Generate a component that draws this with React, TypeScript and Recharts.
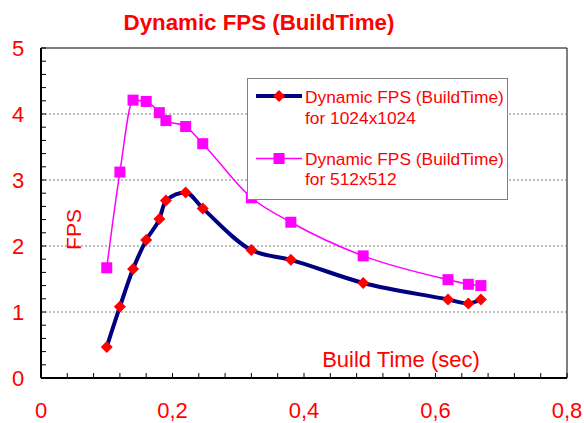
import React from 'react';
import { ComposedChart, Line, XAxis, YAxis, ReferenceLine, ReferenceArea } from 'recharts';

// ---- data ----
const buildTime = [0.1, 0.12, 0.14, 0.16, 0.18, 0.19, 0.22, 0.246, 0.32, 0.38, 0.49, 0.619, 0.65, 0.669];
const fps1024 = [0.47, 1.08, 1.65, 2.09, 2.41, 2.69, 2.81, 2.57, 1.94, 1.79, 1.44, 1.19, 1.13, 1.19];
const fps512 = [1.67, 3.12, 4.21, 4.19, 4.02, 3.9, 3.81, 3.55, 2.73, 2.36, 1.85, 1.49, 1.42, 1.4];

const seriesNames1024 = ['Dynamic FPS (BuildTime)', 'for 1024x1024'];
const seriesNames512 = ['Dynamic FPS (BuildTime)', 'for 512x512'];

const titleText = 'Dynamic FPS (BuildTime)';
const xTitle = 'Build Time (sec)';
const yTitle = 'FPS';

const xTicks = [0, 0.04, 0.08, 0.12, 0.16, 0.2, 0.24, 0.28, 0.32, 0.36, 0.4, 0.44, 0.48, 0.52, 0.56, 0.6, 0.64, 0.68, 0.72, 0.76, 0.8];
const xMajorTicks = [0, 0.2, 0.4, 0.6, 0.8];
const xMajorLabels = ['0', '0,2', '0,4', '0,6', '0,8'];

const yTicks = [0, 0.2, 0.4, 0.6, 0.8, 1, 1.2, 1.4, 1.6, 1.8, 2, 2.2, 2.4, 2.6, 2.8, 3, 3.2, 3.4, 3.6, 3.8, 4, 4.2, 4.4, 4.6, 4.8, 5];
const yMajorTicks = [0, 1, 2, 3, 4, 5];
const yMajorLabels = ['0', '1', '2', '3', '4', '5'];
const gridValues = [1, 2, 3, 4];

const data = buildTime.map((t, i) => ({ t, a: fps1024[i], b: fps512[i] }));

const RED = '#FF0000';
const NAVY = '#000080';
const MAGENTA = '#FF00FF';
const FONT = "Arial, 'Liberation Sans', sans-serif";

const findLabel = (v: number, majors: number[], labels: string[]) => {
  const i = majors.findIndex((m) => Math.abs(m - v) < 1e-9);
  return i >= 0 ? labels[i] : null;
};

const XTick = (props: any) => {
  const { x, y, payload } = props;
  const label = findLabel(payload.value, xMajorTicks, xMajorLabels);
  return (
    <g>
      <line x1={x} x2={x} y1={y} y2={y - 5} stroke="#000" strokeWidth={1} />
      {label !== null && (
        <text x={x} y={y + 40} textAnchor="middle" fill={RED} fontSize={22} fontFamily={FONT}>
          {label}
        </text>
      )}
    </g>
  );
};

const YTick = (props: any) => {
  const { x, y, payload } = props;
  const label = findLabel(payload.value, yMajorTicks, yMajorLabels);
  return (
    <g>
      <line x1={x} x2={x + 5} y1={y} y2={y} stroke="#000" strokeWidth={1} />
      {label !== null && (
        <text x={x - 23} y={y + 8} textAnchor="middle" fill={RED} fontSize={22} fontFamily={FONT}>
          {label}
        </text>
      )}
    </g>
  );
};

const Diamond = (props: any) => {
  const { cx, cy, index } = props;
  if (cx == null || cy == null) return <g key={index} />;
  const r = 6;
  return (
    <polygon
      key={`d${index}`}
      points={`${cx},${cy - r} ${cx + r},${cy} ${cx},${cy + r} ${cx - r},${cy}`}
      fill={RED}
      stroke="none"
    />
  );
};

const Square = (props: any) => {
  const { cx, cy, index } = props;
  if (cx == null || cy == null) return <g key={index} />;
  const r = 5.5;
  return <rect key={`s${index}`} x={cx - r} y={cy - r} width={2 * r} height={2 * r} fill={MAGENTA} stroke="none" />;
};

export default function App() {
  return (
    <div style={{ position: 'absolute', left: 0, top: 0, width: 584, height: 423, background: '#fff' }}>
      <ComposedChart width={584} height={423} data={data} margin={{ top: 48, right: 17, left: 0, bottom: 0 }}>
        <ReferenceArea x1={0} x2={0.8} y1={0} y2={5} fill="none" stroke="#000" strokeWidth={1} />
        {gridValues.map((v) => (
          <ReferenceLine key={v} y={v} stroke="#808080" strokeDasharray="2 2" strokeWidth={1} />
        ))}
        <XAxis
          dataKey="t"
          type="number"
          domain={[0, 0.8]}
          ticks={xTicks}
          interval={0}
          height={45}
          tickSize={0}
          tickMargin={0}
          tickLine={false}
          axisLine={{ stroke: '#000', strokeWidth: 2 }}
          tick={<XTick />}
          allowDataOverflow
        />
        <YAxis
          type="number"
          domain={[0, 5]}
          ticks={yTicks}
          interval={0}
          width={41}
          tickSize={0}
          tickMargin={0}
          tickLine={false}
          axisLine={{ stroke: '#000', strokeWidth: 2 }}
          tick={<YTick />}
          allowDataOverflow
        />
        <Line
          dataKey="a"
          type="monotone"
          stroke={NAVY}
          strokeWidth={4}
          dot={Diamond}
          activeDot={false}
          isAnimationActive={false}
        />
        <Line
          dataKey="b"
          type="monotone"
          stroke={MAGENTA}
          strokeWidth={1.5}
          dot={Square}
          activeDot={false}
          isAnimationActive={false}
        />
      </ComposedChart>
      <svg width={584} height={423} style={{ position: 'absolute', left: 0, top: 0, pointerEvents: 'none' }}>
        <text x={259} y={29.5} textAnchor="middle" fill={RED} fontSize={22.3} fontWeight="bold" fontFamily={FONT}>
          {titleText}
        </text>
        <text
          x={73.5}
          y={229.5}
          textAnchor="middle"
          dominantBaseline="central"
          transform="rotate(-90, 73.5, 229.5)"
          fill={RED}
          fontSize={21}
          fontFamily={FONT}
        >
          {yTitle}
        </text>
        <text x={401} y={366.5} textAnchor="middle" fill={RED} fontSize={22} fontFamily={FONT}>
          {xTitle}
        </text>
        <g>
          <rect x={247.5} y={78.5} width={260} height={121} fill="#fff" stroke="#808080" strokeWidth={1} />
          <line x1={256} x2={302} y1={96} y2={96} stroke={NAVY} strokeWidth={4} />
          <polygon points="279,90 285,96 279,102 273,96" fill={RED} />
          <text x={305} y={103} fill={RED} fontSize={17.35} fontFamily={FONT}>{seriesNames1024[0]}</text>
          <text x={305} y={123.5} fill={RED} fontSize={17.35} fontFamily={FONT}>{seriesNames1024[1]}</text>
          <line x1={256} x2={302} y1={158.5} y2={158.5} stroke={MAGENTA} strokeWidth={1.5} />
          <rect x={273.5} y={153} width={11} height={11} fill={MAGENTA} />
          <text x={305} y={164.5} fill={RED} fontSize={17.35} fontFamily={FONT}>{seriesNames512[0]}</text>
          <text x={305} y={184.5} fill={RED} fontSize={17.35} fontFamily={FONT}>{seriesNames512[1]}</text>
        </g>
      </svg>
    </div>
  );
}
